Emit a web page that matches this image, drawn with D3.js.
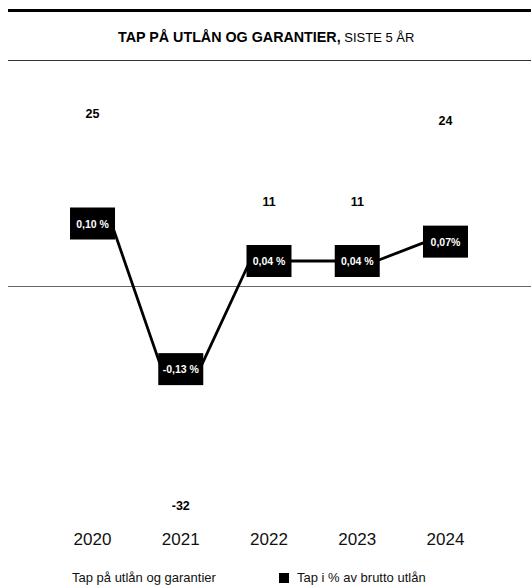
<!DOCTYPE html>
<html>
<head>
<meta charset="utf-8">
<script src="https://cdn.jsdelivr.net/npm/d3@7/dist/d3.min.js"></script>
<style>
  html, body { margin: 0; padding: 0; background: #fff; }
  svg { display: block; font-family: "Liberation Sans", Arial, sans-serif; }
</style>
</head>
<body>
<svg id="chart" width="531" height="585"></svg>
<script>
const years = ["2020", "2021", "2022", "2023", "2024"];
const tapMNOK = [25, -32, 11, 11, 24];
const tapPct = [0.100, -0.133, 0.040, 0.040, 0.071];
const pctLabels = ["0,10 %", "-0,13 %", "0,04 %", "0,04 %", "0,07%"];
const seriesNames = ["Tap på utlån og garantier", "Tap i % av brutto utlån"];
const titleBold = "TAP PÅ UTLÅN OG GARANTIER,";
const titleRest = " SISTE 5 ÅR";

const W = 531, H = 585;
const svg = d3.select("#chart");
svg.append("rect").attr("width", W).attr("height", H).attr("fill", "#fff");

// header rules and title
svg.append("line").attr("x1", 8).attr("x2", W).attr("y1", 10.5).attr("y2", 10.5)
  .attr("stroke", "#000").attr("stroke-width", 3);
const title = svg.append("text").attr("x", 118).attr("y", 42).attr("fill", "#000");
title.append("tspan").attr("font-weight", "bold").attr("font-size", 14.3).text(titleBold);
title.append("tspan").attr("font-size", 13).text(titleRest);
svg.append("line").attr("x1", 8).attr("x2", W).attr("y1", 60.5).attr("y2", 60.5)
  .attr("stroke", "#333").attr("stroke-width", 1);

// scales
const x = d3.scaleBand().domain(years).range([48.4, 489.6]).padding(0);
const cx = d => x(d) + x.bandwidth() / 2;
const yBar = d3.scaleLinear().domain([-36, 36]).range([511, 61]);
const yPct = d3.scaleLinear().domain([-0.36, 0.36]).range([511, 61]);

// bars (white, as in the original)
const barW = x.bandwidth() * 0.6;
svg.append("g").selectAll("rect").data(years).join("rect")
  .attr("x", d => cx(d) - barW / 2)
  .attr("width", barW)
  .attr("y", (d, i) => Math.min(yBar(tapMNOK[i]), yBar(0)))
  .attr("height", (d, i) => Math.abs(yBar(tapMNOK[i]) - yBar(0)))
  .attr("fill", "#fff");

// zero line
svg.append("line").attr("x1", 8).attr("x2", W).attr("y1", yBar(0) + 0.5).attr("y2", yBar(0) + 0.5)
  .attr("stroke", "#666").attr("stroke-width", 1.2);

// bar value labels
svg.append("g").selectAll("text").data(years).join("text")
  .attr("x", d => cx(d))
  .attr("y", (d, i) => tapMNOK[i] >= 0 ? yBar(tapMNOK[i]) - 11.5 : yBar(tapMNOK[i]) + 24)
  .attr("text-anchor", "middle")
  .attr("font-weight", "bold").attr("font-size", 12.5).attr("fill", "#000")
  .text((d, i) => String(tapMNOK[i]));

// line series
const off = 19;
const pts = [];
years.forEach((d, i) => {
  pts.push([cx(d) - off, yPct(tapPct[i])]);
  pts.push([cx(d) + off, yPct(tapPct[i])]);
});
svg.append("path").attr("d", d3.line()(pts))
  .attr("fill", "none").attr("stroke", "#000").attr("stroke-width", 2.8)
  .attr("stroke-linejoin", "round");

// boxes
const bw = 45, bh = 32;
const g = svg.append("g").selectAll("g").data(years).join("g")
  .attr("transform", (d, i) => `translate(${cx(d)},${yPct(tapPct[i])})`);
g.append("rect").attr("x", -bw / 2).attr("y", -bh / 2).attr("width", bw).attr("height", bh)
  .attr("fill", "#000");
g.append("text").attr("text-anchor", "middle").attr("y", 4)
  .attr("fill", "#fff").attr("font-weight", "bold").attr("font-size", 10.5)
  .text((d, i) => pctLabels[i]);

// x axis labels
svg.append("g").selectAll("text").data(years).join("text")
  .attr("x", d => cx(d)).attr("y", 544.5)
  .attr("text-anchor", "middle").attr("font-size", 17).attr("fill", "#111")
  .text(d => d);

// legend
const leg = [{ x: 58, fill: "#fff" }, { x: 279, fill: "#000" }];
leg.forEach((l, i) => {
  svg.append("rect").attr("x", l.x).attr("y", 573).attr("width", 10).attr("height", 10).attr("fill", l.fill);
  svg.append("text").attr("x", l.x + (i === 0 ? 14 : 18)).attr("y", 582)
    .attr("font-size", 13).attr("fill", "#111").text(seriesNames[i]);
});
</script>
</body>
</html>
